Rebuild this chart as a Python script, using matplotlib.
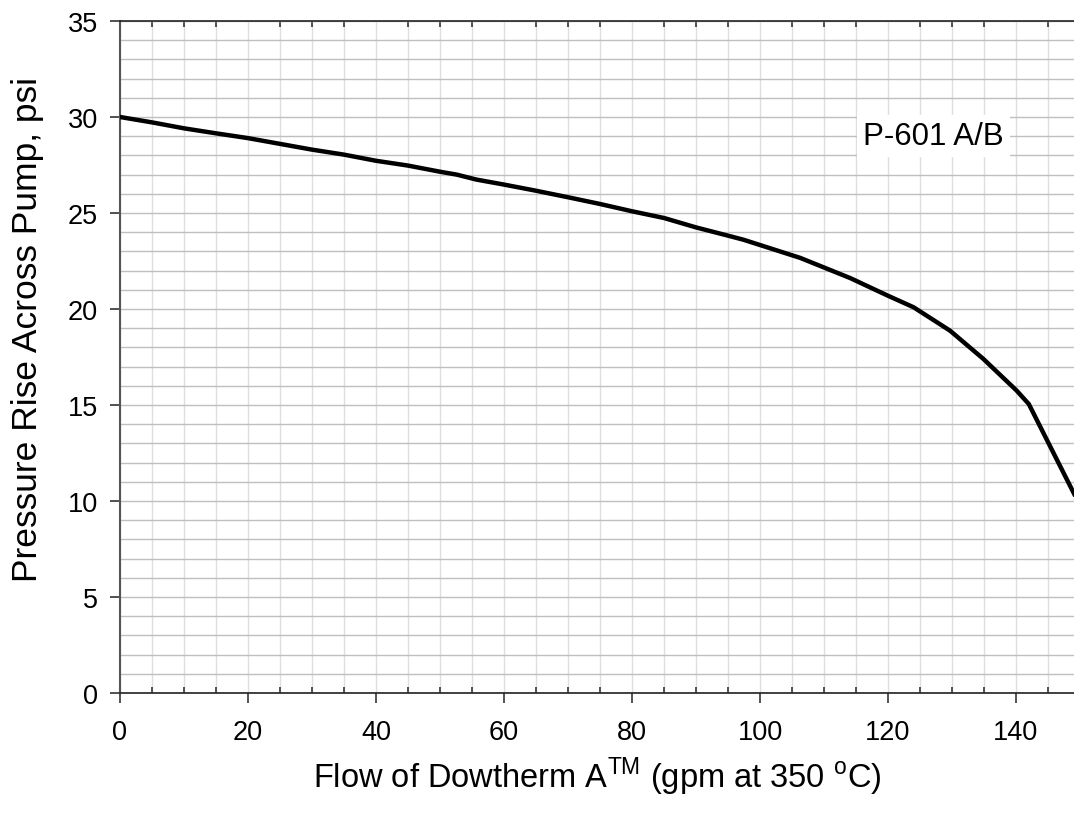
import matplotlib
matplotlib.use('Agg')
from matplotlib import pyplot as plt
from matplotlib.ticker import MultipleLocator

plt.rcParams['font.family'] = ['Liberation Sans', 'DejaVu Sans']
plt.rcParams['mathtext.fontset'] = 'custom'
plt.rcParams['mathtext.rm'] = 'Liberation Sans'

# pump curve
flow = [0, 5, 10, 15, 20, 25, 30, 35, 40, 45, 50, 52.6, 55.7, 60, 65, 70, 75, 80, 85,
        90, 95, 97.4, 106.3, 114.1, 120, 124, 129.7, 134.9, 140.1, 142, 149.1]
dp = [30.0, 29.72, 29.41, 29.15, 28.9, 28.6, 28.3, 28.04, 27.72, 27.47, 27.15, 27.0, 26.74,
      26.48, 26.16, 25.82, 25.47, 25.09, 24.74, 24.25, 23.82, 23.61, 22.66, 21.61, 20.69,
      20.09, 18.87, 17.4, 15.75, 15.05, 10.36]

pump_name = 'P-601 A/B'
xlabel = r'Flow of Dowtherm A$^{\mathrm{TM}}$ (gpm at 350 $^{\mathrm{o}}$C)'
ylabel = 'Pressure Rise Across Pump, psi'

W, H = 1074, 829
fig = plt.figure(figsize=(W/100, H/100), dpi=100)
ax = fig.add_axes([120/W, (H-694)/H, (W-120)/W, 672/H])

ax.plot(flow, dp, color='black', lw=3.2, zorder=3, solid_joinstyle='round')

ax.set_xlim(0, 954/6.4)
ax.set_ylim(0, 35)
ax.xaxis.set_major_locator(MultipleLocator(20))
ax.xaxis.set_minor_locator(MultipleLocator(5))
ax.yaxis.set_major_locator(MultipleLocator(5))
ax.yaxis.set_minor_locator(MultipleLocator(1))

ax.grid(axis='x', which='both', color='#dedede', lw=1.0, zorder=0)
ax.grid(axis='y', which='both', color='#bfbfbf', lw=1.0, zorder=0)
ax.set_axisbelow(True)

ax.tick_params(axis='x', which='major', direction='out', length=7, width=1.3,
               color='#444444', pad=12, labelsize=19.5, top=False)
ax.tick_params(axis='x', which='minor', direction='in', length=4.5, width=1.3,
               color='#444444', top=True, bottom=True)
ax.tick_params(axis='y', which='major', direction='out', length=7, width=1.1,
               color='#222222', pad=9, labelsize=19.5, right=False)
ax.tick_params(axis='y', which='minor', length=0)

ax.spines['right'].set_visible(False)
ax.spines['left'].set_color('#555555')
ax.spines['left'].set_linewidth(1.5)
ax.spines['top'].set_color('#222222')
ax.spines['bottom'].set_color('#222222')
ax.spines['top'].set_linewidth(1.2)
ax.spines['bottom'].set_linewidth(1.2)

ax.set_xlabel(xlabel, fontsize=23.5, labelpad=7)
ax.set_ylabel(ylabel, fontsize=25.5, labelpad=17)
ax.yaxis.label.set_y(0.542)

ax.text(116.1, 29.0, pump_name, fontsize=22.5, ha='left', va='center', zorder=4,
        bbox=dict(boxstyle='square,pad=0.2', fc='white', ec='none'))

fig.savefig('out.png', dpi=100)
